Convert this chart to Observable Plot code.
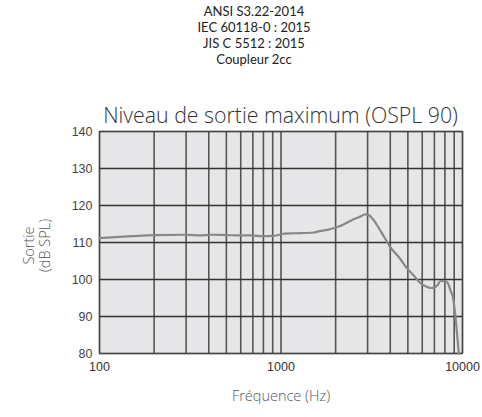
<!DOCTYPE html>
<html>
<head>
<meta charset="utf-8">
<script src="https://cdn.jsdelivr.net/npm/d3@7"></script>
<script src="https://cdn.jsdelivr.net/npm/@observablehq/plot@0.6"></script>
<style>
  body { margin: 0; background: #fff; width: 482px; height: 417px; position: relative; overflow: hidden; }
  #header { position: absolute; left: 0; top: 4px; width: 508px; text-align: center; font-family: Lato, "Open Sans", sans-serif; font-size: 13px; color: #222; }
  #header div { height: 16px; line-height: 15px; }
  #title { position: absolute; left: 94px; top: 102px; width: 373px; text-align: center; font-family: "Open Sans", sans-serif; font-weight: 300; font-size: 21.3px; line-height: 26px; color: #333; white-space: nowrap; }
  #chart { position: absolute; left: 0; top: 100px; }
</style>
</head>
<body>
<div id="header"></div>
<div id="title"></div>
<div id="chart"></div>
<script>
const headerLines = ["ANSI S3.22-2014", "IEC 60118-0 : 2015", "JIS C 5512 : 2015", "Coupleur 2cc"];
const chartTitle = "Niveau de sortie maximum (OSPL 90)";
const xLabel = "Fréquence (Hz)";
const yLabelLines = ["Sortie", "(dB SPL)"];
const xTicks = [100, 1000, 10000];
const yTicks = [80, 90, 100, 110, 120, 130, 140];
const xGrid = [100,200,300,400,500,600,700,800,900,1000,2000,3000,4000,5000,6000,7000,8000,9000,10000];

const freq = [100, 150, 200, 300, 360, 410, 500, 600, 680, 800, 900, 1000, 1040, 1200, 1520, 1600, 1800, 2040, 2200, 2420, 2700, 2920, 3050, 3200, 3390, 3700, 4010, 4500, 4950, 5400, 5870, 6300, 6670, 7000, 7260, 7570, 7900, 8240, 8590, 8890, 9150, 9350, 9540];
const spl  = [111.2, 111.7, 112.0, 112.1, 111.9, 112.1, 112.0, 111.9, 111.9, 111.7, 111.8, 112.2, 112.4, 112.5, 112.7, 113.0, 113.4, 114.2, 114.8, 115.9, 116.9, 117.6, 117.4, 116.4, 114.6, 111.5, 108.7, 105.8, 103.0, 101.0, 99.0, 98.1, 97.7, 97.8, 98.4, 99.6, 99.6, 99.3, 97.0, 94.8, 89.8, 85.0, 80.0];

const header = document.getElementById("header");
headerLines.forEach(t => { const d = document.createElement("div"); d.textContent = t; header.appendChild(d); });
document.getElementById("title").textContent = chartTitle;

const data = freq.map((f, i) => ({f, v: spl[i]}));

const chart = Plot.plot({
  width: 482,
  height: 317,
  marginLeft: 99,
  marginRight: 20,
  marginTop: 31,
  marginBottom: 64,
  style: {fontFamily: "'Liberation Sans', Arial, sans-serif", fontSize: "12px", color: "#444", background: "transparent"},
  x: {type: "log", domain: [100, 10000], ticks: xTicks, tickFormat: d => String(d), tickSize: 0, tickPadding: 9, label: null},
  y: {domain: [80, 140], ticks: yTicks, tickSize: 0, tickPadding: 7, label: null},
  marks: [
    Plot.frame({fill: "#e6e6e8", stroke: null}),
    Plot.ruleX(xGrid, {stroke: "#555", strokeWidth: 1.6}),
    Plot.ruleY(yTicks, {stroke: "#333", strokeWidth: 1.4}),
    Plot.frame({stroke: "#444", strokeWidth: 1.2}),
    Plot.line(data, {x: "f", y: "v", stroke: "#888", strokeWidth: 2.2, curve: "monotone-x"}),
    Plot.axisX({ticks: xTicks, tickFormat: d => String(d), tickSize: 0, tickPadding: 9, fontSize: 12.5, fill: "#333"}),
    Plot.axisY({ticks: yTicks, tickSize: 0, tickPadding: 7, fontSize: 12.5, fill: "#444"}),
    Plot.text([xLabel], {frameAnchor: "bottom", dy: 47, fontSize: 14.5, fill: "#555", fontFamily: "'Open Sans', sans-serif", fontWeight: 300}),
    Plot.text([yLabelLines[0]], {frameAnchor: "left", textAnchor: "middle", dx: -70, dy: 3, rotate: -90, fontSize: 14.5, fill: "#555", fontFamily: "'Open Sans', sans-serif", fontWeight: 300}),
    Plot.text([yLabelLines[1]], {frameAnchor: "left", textAnchor: "middle", dx: -54, dy: 3, rotate: -90, fontSize: 14.5, fill: "#555", fontFamily: "'Open Sans', sans-serif", fontWeight: 300})
  ]
});
document.getElementById("chart").appendChild(chart);
</script>
</body>
</html>
